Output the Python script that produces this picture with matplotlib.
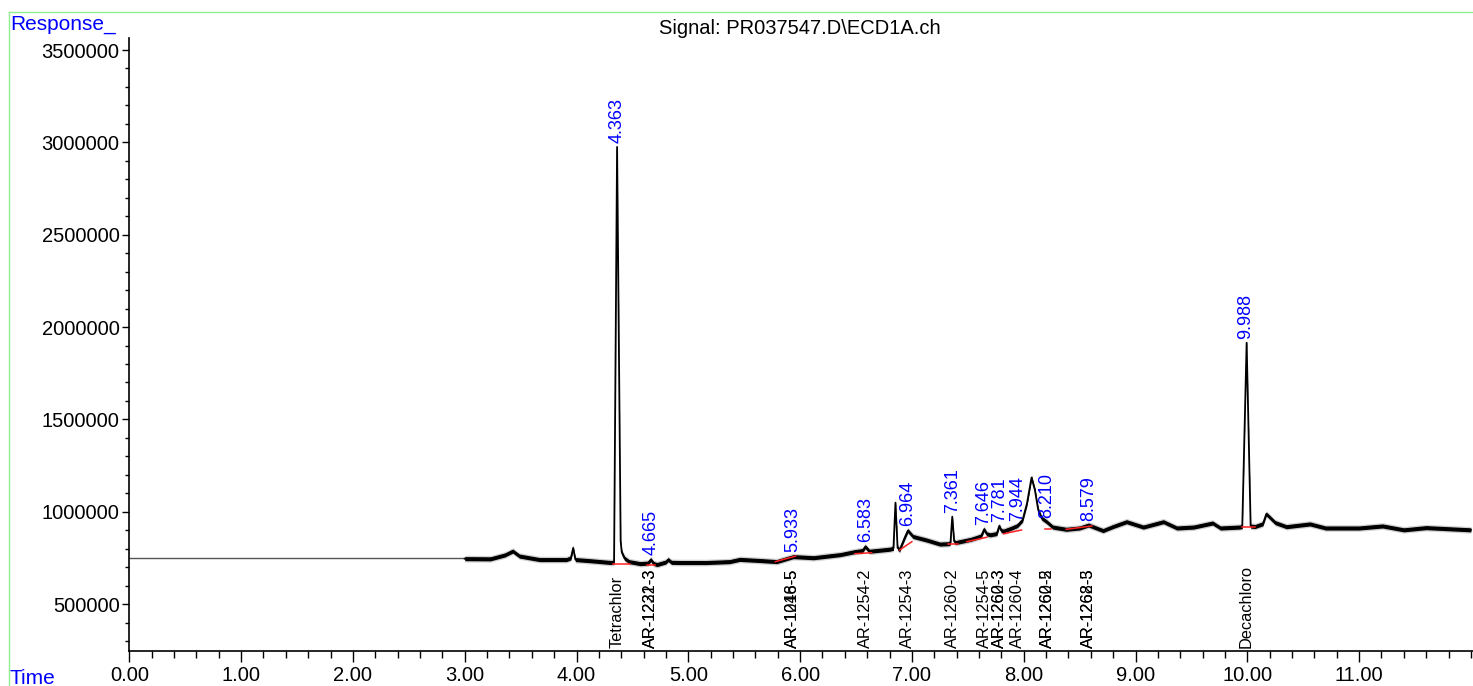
import matplotlib
matplotlib.use('Agg')
import matplotlib.pyplot as plt
from matplotlib.lines import Line2D
from matplotlib.ticker import MultipleLocator, FormatStrFormatter
import matplotlib.transforms as mtransforms
import numpy as np

plt.rcParams['font.family'] = ['Liberation Sans', 'DejaVu Sans']

# ---------------- data ----------------
flat_time = [0.00, 3.00]
flat_resp = [750000, 750000]

trace_time = [3.00, 3.23, 3.36, 3.43, 3.49, 3.67, 3.91, 3.95, 3.97, 3.99, 4.12, 4.31,
              4.336, 4.363, 4.395, 4.405, 4.43, 4.47, 4.57, 4.64, 4.665, 4.69, 4.72,
              4.80, 4.82, 4.85, 4.93, 5.16, 5.37, 5.46, 5.64, 5.79, 5.94, 6.12, 6.36,
              6.49, 6.56, 6.583, 6.62, 6.80, 6.835, 6.853, 6.872, 6.89, 6.94, 6.964,
              7.01, 7.13, 7.25, 7.33, 7.345, 7.361, 7.378, 7.39, 7.53, 7.62, 7.646,
              7.67, 7.70, 7.76, 7.781, 7.80, 7.82, 7.89, 7.944, 7.99, 8.03, 8.07, 8.10,
              8.13, 8.16, 8.205, 8.26, 8.38, 8.50, 8.58, 8.71, 8.80, 8.92, 9.07, 9.25,
              9.37, 9.52, 9.69, 9.76, 9.93, 9.955, 9.994, 10.03, 10.07, 10.14, 10.17,
              10.25, 10.35, 10.56, 10.70, 11.00, 11.21, 11.40, 11.60, 12.00]
trace_resp = [746000, 745000, 766000, 787000, 760000, 741000, 741000, 750000, 804000,
              741000, 735000, 725000, 727000, 2975000, 840000, 780000, 748000, 730000,
              719000, 722000, 741000, 720000, 714000, 728000, 741000, 726000, 725000,
              725000, 730000, 742000, 736000, 730000, 757000, 751000, 768000, 784000,
              790000, 811000, 786000, 797000, 802000, 1049000, 805000, 793000, 866000,
              898000, 866000, 847000, 825000, 827000, 832000, 973000, 840000, 833000,
              851000, 869000, 905000, 880000, 875000, 882000, 923000, 898000, 895000,
              911000, 925000, 955000, 1047000, 1185000, 1118000, 1010000, 966000,
              946000, 917000, 905000, 912000, 928000, 898000, 920000, 946000, 917000,
              946000, 912000, 917000, 939000, 912000, 917000, 920000, 1915000, 922000,
              920000, 935000, 988000, 941000, 919000, 934000, 912000, 912000, 923000,
              902000, 914000, 902000]

# integration baselines: (t_start, v_start, t_end, v_end)
base_t0 = [4.33, 4.63, 5.78, 6.49, 6.89, 7.32, 7.49, 7.82, 8.19, 8.38, 9.95]
base_v0 = [717000, 712000, 730000, 773000, 793000, 825000, 838000, 881000, 905000, 905000, 919000]
base_t1 = [4.48, 4.70, 5.96, 6.64, 7.00, 7.41, 7.67, 7.98, 8.24, 8.61, 10.07]
base_v1 = [717000, 712000, 760000, 778000, 838000, 825000, 862000, 901000, 905000, 923000, 919000]

rt_labels = ["4.363", "4.665", "5.933", "6.583", "6.964", "7.361", "7.646", "7.781",
             "7.944", "8.210", "8.579", "9.988"]
rt_values = [4.363, 4.665, 5.933, 6.583, 6.964, 7.361, 7.646, 7.781, 7.944, 8.210, 8.579, 9.988]
rt_heights = [2975000, 741000, 757000, 811000, 898000, 973000, 905000, 923000, 925000,
              946000, 928000, 1915000]

name_labels = ["Tetrachlor", "AR-1221-3", "AR-1232-3", "AR-1016-5", "AR-1248-5",
               "AR-1254-2", "AR-1254-3", "AR-1260-2", "AR-1254-5", "AR-1260-3",
               "AR-1262-3", "AR-1260-4", "AR-1260-5", "AR-1262-2", "AR-1268-3",
               "AR-1262-5", "Decachloro"]
name_times = [4.363, 4.665, 4.665, 5.933, 5.933, 6.583, 6.964, 7.361, 7.646, 7.781,
              7.781, 7.944, 8.210, 8.210, 8.579, 8.579, 9.988]

x_ticks = [0, 1, 2, 3, 4, 5, 6, 7, 8, 9, 10, 11]
y_ticks = [500000, 1000000, 1500000, 2000000, 2500000, 3000000, 3500000]

# ---------------- figure ----------------
W, H = 1473, 686
fig = plt.figure(figsize=(W / 100, H / 100), dpi=100)
left_px, bottom_px, top_px = 129.3, 650.7, 38.0
ax = fig.add_axes([left_px / W, (H - bottom_px) / H, 1 - left_px / W, (bottom_px - top_px) / H])

ax.set_xlim(0, (W - left_px) / 111.8)
ax.set_ylim(247700, 3565000)

tt = np.array(trace_time)
rr = np.array(trace_resp)
ax.plot(flat_time, flat_resp, color='#555555', lw=1.0, solid_capstyle='butt')
ax.fill_between(tt, rr - 18000, rr + 18000, color='#a0a0a0', lw=0, alpha=0.5)
ax.fill_between(tt, rr - 11000, rr + 11000, color='black', lw=0)
ax.plot(tt, rr, color='black', lw=1.3)

for t0, v0, t1, v1 in zip(base_t0, base_v0, base_t1, base_v1):
    ax.plot([t0, t1], [v0, v1], color='#ff2020', lw=1.1)

for lab, t, h in zip(rt_labels, rt_values, rt_heights):
    ax.annotate(lab, xy=(t, h), xytext=(0, 3), textcoords='offset points',
                rotation=90, ha='center', va='bottom', color='#0000ff', fontsize=13)

trans = mtransforms.blended_transform_factory(ax.transData, ax.transAxes)
for lab, t in zip(name_labels, name_times):
    ax.text(t, 0.004, lab, transform=trans, rotation=90, ha='center', va='bottom',
            color='black', fontsize=11.8)

ax.spines['top'].set_visible(False)
ax.spines['right'].set_visible(False)
for s in ('left', 'bottom'):
    ax.spines[s].set_linewidth(1.2)
ax.set_xticks(x_ticks)
ax.xaxis.set_major_formatter(FormatStrFormatter('%.2f'))
ax.xaxis.set_minor_locator(MultipleLocator(0.2))
ax.set_yticks(y_ticks)
ax.yaxis.set_major_formatter(FormatStrFormatter('%d'))
ax.yaxis.set_minor_locator(MultipleLocator(100000))
ax.tick_params(axis='x', which='major', length=8, width=1, labelsize=14.5, pad=3)
ax.tick_params(axis='x', which='minor', length=5, width=1)
ax.tick_params(axis='y', which='major', length=5, width=1, labelsize=14.5, pad=2)
ax.tick_params(axis='y', which='minor', length=3, width=1)

# frame lines and captions
fig.add_artist(Line2D([8.5 / W, 8.5 / W], [0, 1 - 12 / H], color='#90ee90', lw=1.0))
fig.add_artist(Line2D([8.5 / W, 1], [1 - 12 / H, 1 - 12 / H], color='#90ee90', lw=1.0))
fig.text(10 / W, 1 - 25 / H, 'Response_', color='#0000ff', fontsize=15, ha='left', va='center')
fig.text(10 / W, 1 - 679 / H, 'Time', color='#0000ff', fontsize=15, ha='left', va='center')
fig.text(800 / W, 1 - 28 / H, 'Signal: PR037547.D\\ECD1A.ch', color='black', fontsize=14.5,
         ha='center', va='center')

fig.savefig('out.png', dpi=100)
